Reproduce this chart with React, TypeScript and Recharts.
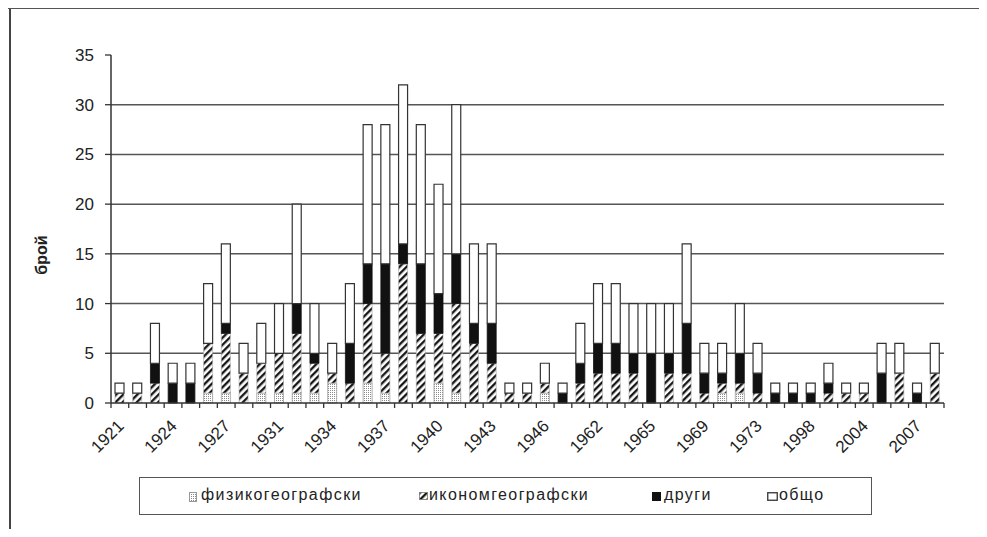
import React from 'react';
import { BarChart, Bar, XAxis, YAxis, CartesianGrid, Legend } from 'recharts';

const years = [
  '1921', '1922', '1923', '1924', '1925', '1926', '1927', '1928', '1930', '1931',
  '1932', '1933', '1934', '1935', '1936', '1937', '1938', '1939', '1940', '1941',
  '1942', '1943', '1944', '1945', '1946', '1947', '1961', '1962', '1963', '1964',
  '1965', '1966', '1968', '1969', '1970', '1972', '1973', '1974', '1990', '1998',
  '2000', '2002', '2004', '2005', '2006', '2007', '2008',
];
const phys = [
  0, 0, 0, 0, 0, 1, 1, 0, 1, 1,
  1, 1, 2, 0, 2, 1, 0, 0, 2, 1,
  0, 0, 0, 0, 1, 0, 0, 0, 0, 0,
  0, 0, 0, 0, 1, 1, 0, 0, 0, 0,
  0, 0, 0, 0, 0, 0, 0,
];
const econ = [
  1, 1, 2, 0, 0, 5, 6, 3, 3, 4,
  6, 3, 1, 2, 8, 4, 14, 7, 5, 9,
  6, 4, 1, 1, 1, 0, 2, 3, 3, 3,
  0, 3, 3, 1, 1, 1, 1, 0, 0, 0,
  1, 1, 1, 0, 3, 0, 3,
];
const other = [
  0, 0, 2, 2, 2, 0, 1, 0, 0, 0,
  3, 1, 0, 4, 4, 9, 2, 7, 4, 5,
  2, 4, 0, 0, 0, 1, 2, 3, 3, 2,
  5, 2, 5, 2, 1, 3, 2, 1, 1, 1,
  1, 0, 0, 3, 0, 1, 0,
];
const total = [
  1, 1, 4, 2, 2, 6, 8, 3, 4, 5,
  10, 5, 3, 6, 14, 14, 16, 14, 11, 15,
  8, 8, 1, 1, 2, 1, 4, 6, 6, 5,
  5, 5, 8, 3, 3, 5, 3, 1, 1, 1,
  2, 1, 1, 3, 3, 1, 3,
];
const yTicks = [0, 5, 10, 15, 20, 25, 30, 35];
const gridValues = [5, 10, 15, 20, 25, 30];
const seriesNames = ['физикогеографски', 'икономгеографски', 'други', 'общо'];

const data = years.map((y, i) => ({
  year: y,
  phys: phys[i],
  econ: econ[i],
  other: other[i],
  total: total[i],
}));

const FONT = '"Liberation Sans", Arial, sans-serif';
const W = 979;
const H = 529;
const PLOT_LEFT = 111;
const PLOT_RIGHT = 944;
const PLOT_TOP = 55;
const PLOT_BOTTOM = 403;
const X_AXIS_H = 60;

const XTick = (props: any) => {
  const { x, y, payload, index } = props;
  const off = payload && typeof payload.offset === 'number' && payload.offset > 0
    ? payload.offset
    : (PLOT_RIGHT - PLOT_LEFT) / years.length / 2;
  const isLast = index === years.length - 1;
  const ax = x + 5;
  const ay = y + 24;
  return (
    <g>
      <line x1={x - off} x2={x - off} y1={y} y2={y + 5} stroke="#333" strokeWidth={1.3} />
      {isLast && <line x1={x + off} x2={x + off} y1={y} y2={y + 5} stroke="#333" strokeWidth={1.3} />}
      {index % 3 === 0 && (
        <text
          x={ax}
          y={ay}
          textAnchor="end"
          transform={`rotate(-45 ${ax} ${ay})`}
          fontSize={17}
          fontFamily={FONT}
          fill="#222"
        >
          {payload.value}
        </text>
      )}
    </g>
  );
};

const Swatch = ({ kind }: { kind: number }) => {
  if (kind === 0)
    return (
      <svg width={8} height={10} style={{ display: 'block' }}>
        <rect x={0.5} y={0.5} width={7} height={9} fill="url(#dotsPat)" stroke="#999" strokeWidth={1} />
      </svg>
    );
  if (kind === 1)
    return (
      <svg width={9} height={8} style={{ display: 'block' }}>
        <rect x={0.5} y={0.5} width={8} height={7} fill="url(#hatchPat)" stroke="#777" strokeWidth={0.8} />
      </svg>
    );
  if (kind === 2)
    return (
      <svg width={9} height={9} style={{ display: 'block' }}>
        <rect x={0} y={0} width={9} height={9} fill="#111" />
      </svg>
    );
  return (
    <svg width={11} height={9} style={{ display: 'block' }}>
      <rect x={0.75} y={0.75} width={9.5} height={7.5} fill="#fff" stroke="#333" strokeWidth={1.3} />
    </svg>
  );
};

const legendPos = [
  { sw: 49, tx: 61 },
  { sw: 279, tx: 289 },
  { sw: 512, tx: 524 },
  { sw: 627, tx: 639 },
];

const LegendBox = () => (
  <div
    style={{
      position: 'relative',
      width: 733,
      height: 38,
      boxSizing: 'border-box',
      border: '1.6px solid #555',
      background: '#fff',
      fontFamily: FONT,
    }}
  >
    {seriesNames.map((n, i) => (
      <React.Fragment key={n}>
        <div style={{ position: 'absolute', left: legendPos[i].sw, top: 14 }}>
          <Swatch kind={i} />
        </div>
        <div
          style={{
            position: 'absolute',
            left: legendPos[i].tx,
            top: 8,
            fontSize: 16,
            letterSpacing: 1.4,
            color: '#222',
            lineHeight: '18px',
            whiteSpace: 'nowrap',
          }}
        >
          {n}
        </div>
      </React.Fragment>
    ))}
  </div>
);

export default function App() {
  return (
    <div
      style={{
        position: 'relative',
        width: W,
        height: H,
        margin: '-8px 0 0 -8px',
        background: '#fff',
      }}
    >
      <div
        style={{
          position: 'absolute',
          left: 9,
          top: 7,
          width: 2,
          height: H - 7,
          background: '#444',
          zIndex: 4,
        }}
      />
      <div
        style={{
          position: 'absolute',
          left: 5,
          top: 7,
          width: W - 5,
          height: 2,
          background: '#555',
          zIndex: 4,
        }}
      />
      <BarChart
        width={W}
        height={H}
        data={data}
        margin={{ top: PLOT_TOP, right: W - PLOT_RIGHT, left: 0, bottom: H - PLOT_BOTTOM - X_AXIS_H }}
        barSize={9}
      >
        <defs>
          <pattern id="dotsPat" width={2} height={2} patternUnits="userSpaceOnUse">
            <rect width={2} height={2} fill="#fff" />
            <rect width={1} height={1} fill="#8a8a8a" />
          </pattern>
          <pattern
            id="hatchPat"
            width={5}
            height={5}
            patternUnits="userSpaceOnUse"
            patternTransform="rotate(45)"
          >
            <rect width={5} height={5} fill="#fff" />
            <line x1={1.2} y1={0} x2={1.2} y2={5} stroke="#111" strokeWidth={2.3} />
          </pattern>
        </defs>
        <CartesianGrid
          vertical={false}
          horizontalValues={gridValues}
          stroke="#555"
          strokeWidth={1.5}
        />
        <XAxis
          dataKey="year"
          type="category"
          interval={0}
          tickLine={false}
          tickSize={0}
          tickMargin={0}
          height={X_AXIS_H}
          axisLine={{ stroke: '#333', strokeWidth: 1.5 }}
          tick={<XTick />}
        />
        <YAxis
          type="number"
          domain={[0, 35]}
          ticks={yTicks}
          interval={0}
          width={PLOT_LEFT}
          tickSize={6}
          tickMargin={11}
          axisLine={{ stroke: '#333', strokeWidth: 1.5 }}
          tickLine={{ stroke: '#333', strokeWidth: 1.3 }}
          tick={{ fontSize: 17, fontFamily: FONT, fill: '#222' }}
          label={{
            content: () => (
              <text
                x={47}
                y={255}
                textAnchor="middle"
                transform="rotate(-90 47 255)"
                fontSize={16}
                fontWeight="bold"
                fontFamily={FONT}
                fill="#222"
              >
                брой
              </text>
            ),
          }}
        />
        <Legend
          verticalAlign="middle"
          align="center"
          layout="horizontal"
          wrapperStyle={{ left: 139, top: 477, width: 733, height: 38 }}
          content={() => <LegendBox />}
        />
        <Bar dataKey="phys" name={seriesNames[0]} stackId="a" fill="url(#dotsPat)" stroke="#a0a0a0" strokeWidth={0.8} isAnimationActive={false} />
        <Bar dataKey="econ" name={seriesNames[1]} stackId="a" fill="url(#hatchPat)" stroke="#aaa" strokeWidth={0.6} isAnimationActive={false} />
        <Bar dataKey="other" name={seriesNames[2]} stackId="a" fill="#111" stroke="#111" strokeWidth={0.8} isAnimationActive={false} />
        <Bar dataKey="total" name={seriesNames[3]} stackId="a" fill="#fff" stroke="#333" strokeWidth={1.2} isAnimationActive={false} />
      </BarChart>
    </div>
  );
}
